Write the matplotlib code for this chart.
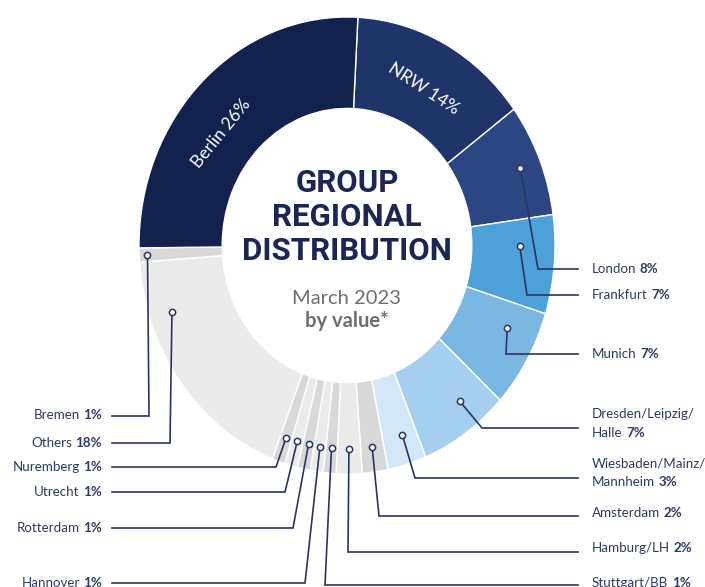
import matplotlib
matplotlib.use("Agg")
import matplotlib.pyplot as plt
import numpy as np
from matplotlib import font_manager

# ---------------- data ----------------
regions = ["NRW", "London", "Frankfurt", "Munich", "Dresden/Leipzig/\nHalle",
           "Wiesbaden/Mainz/\nMannheim", "Amsterdam", "Hamburg/LH", "Stuttgart/BB",
           "Hannover", "Rotterdam", "Utrecht", "Nuremberg", "Others", "Bremen", "Berlin"]
shares = [14, 8, 7, 7, 7, 3, 2, 2, 1, 1, 1, 1, 1, 18, 1, 26]
colors = ["#1f3469", "#2a4683", "#4ea0d9", "#7ab8e3", "#a5cfee", "#d2e7f7",
          "#d8d8d8", "#ebebeb", "#d8d8d8", "#ebebeb", "#d8d8d8", "#ebebeb",
          "#d8d8d8", "#ebebeb", "#d8d8d8", "#13214f"]
title_lines = ["GROUP", "REGIONAL", "DISTRIBUTION"]
subtitle = "March 2023"
subtitle2 = "by value*"

# ---------------- fonts ----------------
installed = {f.name for f in font_manager.fontManager.ttflist}
def pick(*cands):
    for c in cands:
        if c in installed:
            return c
    return "DejaVu Sans"
BODY = pick("Lato", "Open Sans", "Noto Sans")
TITLE = pick("Roboto", "Liberation Sans")

# ---------------- layout ----------------
W, H = 705, 587
CX, CY, RX, RY = 347, 245.5, 208, 228.5
NAVY = "#1c2654"
LINE = "#2a3462"
TXT = "#2f3a63"
LINE_H = 18.5

# leader layout: index -> (angle offset deg, radius, elbow x, elbow y, side, label y)
leaders = {
    1: (0, 0.90, 538, 269, "right", 269),
    2: (-4.8, 0.83, 527, 295, "right", 295),
    3: (-5, 0.85, 506, 354, "right", 354),
    4: (-3.7, 0.87, 482, 428, "right", 433),
    5: (-1, 0.87, 415, 478, "right", 482),
    6: (0, 0.89, 379, 516, "right", 513),
    7: (0, 0.89, 348, 552, "right", 548),
    8: (0, 0.89, 325, 585, "right", 583),
    9: (0, 0.89, 305, 583, "left", 583),
    10: (0, 0.89, 293, 528, "left", 528),
    11: (0, 0.89, 285, 492, "left", 492),
    12: (0, 0.89, 276, 467, "left", 467),
    13: (17.6, 0.89, 170, 443, "left", 443),
    14: (0, 0.96, 149, 416, "left", 415),
}
RIGHT_LINE_END, RIGHT_TEXT_X = 578, 592
LEFT_LINE_START, LEFT_TEXT_X = 112, 102

fig = plt.figure(figsize=(W / 100, H / 100), dpi=100)
ax = fig.add_axes([(CX - RX) / W, (H - CY - RY) / H, 2 * RX / W, 2 * RY / H])
wedges, _ = ax.pie(shares, colors=colors, startangle=87, counterclock=False, radius=1,
                   wedgeprops=dict(width=0.4, edgecolor="white", linewidth=1.0))
ax.set_xlim(-1, 1)
ax.set_ylim(-1, 1)
ax.set_aspect("auto")
ax.axis("off")

ov = fig.add_axes([0, 0, 1, 1])
ov.set_xlim(0, W)
ov.set_ylim(H, 0)
ov.axis("off")

def pie_to_px(theta_cw, r):
    a = np.deg2rad(theta_cw)
    disp = ax.transData.transform((r * np.sin(a), r * np.cos(a)))
    return ov.transData.inverted().transform(disp)

def mid_cw(w):
    return (90 - (w.theta1 + w.theta2) / 2) % 360

fig.canvas.draw()
rend = fig.canvas.get_renderer()
FS = 9.6
SPACE = 3.5

def label(side, y_last, name, pct):
    lines = name.split("\n")
    n = len(lines)
    x = RIGHT_TEXT_X if side == "right" else LEFT_TEXT_X
    ha = "left" if side == "right" else "right"
    for k, ln in enumerate(lines[:-1]):
        ov.text(x, y_last - (n - 1 - k) * LINE_H, ln, ha=ha, va="center",
                fontsize=FS, family=BODY, color=TXT)
    last = lines[-1]
    if side == "right":
        t = ov.text(x, y_last, last, ha="left", va="center", fontsize=FS, family=BODY, color=TXT)
        wpx = t.get_window_extent(renderer=rend).width
        ov.text(x + wpx + SPACE, y_last, f"{pct}%", ha="left", va="center", fontsize=FS,
                family=BODY, color=TXT, fontweight="bold")
    else:
        t = ov.text(x, y_last, f"{pct}%", ha="right", va="center", fontsize=FS, family=BODY,
                    color=TXT, fontweight="bold")
        wpx = t.get_window_extent(renderer=rend).width
        ov.text(x - wpx - SPACE, y_last, last, ha="right", va="center", fontsize=FS,
                family=BODY, color=TXT)

for i, (off, r, ex, ey, side, ly) in leaders.items():
    mx, my = pie_to_px(mid_cw(wedges[i]) + off, r)
    endx = RIGHT_LINE_END if side == "right" else LEFT_LINE_START
    ov.plot([mx, ex, endx], [my, ey, ey], color=LINE, lw=1.2, solid_joinstyle="miter")
    ov.plot([mx], [my], marker="o", ms=4.5, mfc="white", mec=LINE, mew=1.1, zorder=5)
    label(side, ly, regions[i], shares[i])

# in-ring labels
for i, theta, rot in [(15, 309, 51), (0, None, -33)]:
    th = mid_cw(wedges[i]) if theta is None else theta
    px, py = pie_to_px(th, 0.78)
    ov.text(px, py, f"{regions[i]} {shares[i]}%", ha="center", va="center", rotation=rot,
            rotation_mode="anchor", fontsize=12.5, family=BODY, color="white")

# centre titles
for ln, y in zip(title_lines, [183, 217, 251]):
    ov.text(CX, y, ln, ha="center", va="center", fontsize=22.5, family=TITLE,
            fontweight="bold", color=NAVY)
ov.text(CX, 298, subtitle, ha="center", va="center", fontsize=14.5, family=BODY, color="#6e6e6e")
ov.text(CX, 321, subtitle2, ha="center", va="center", fontsize=14.5, family=BODY,
        fontweight="bold", color="#6e6e6e")

fig.savefig("out.png", dpi=100)
